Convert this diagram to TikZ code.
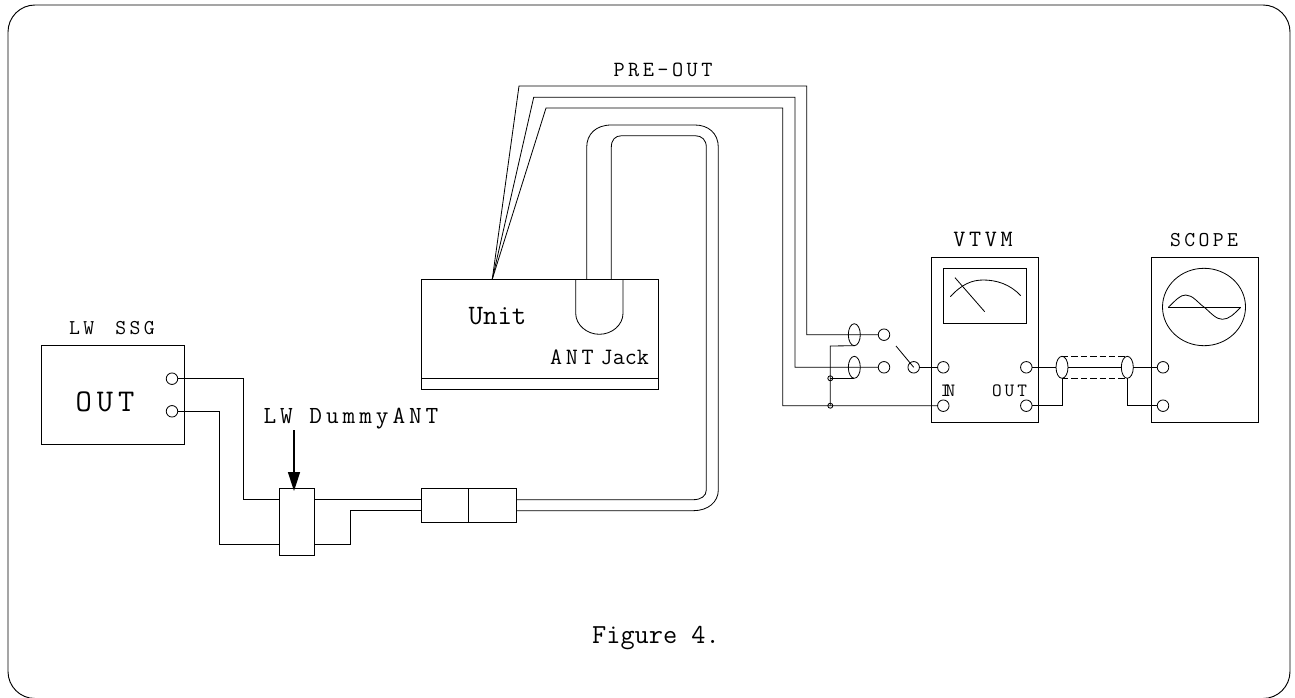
\documentclass[tikz,border=0pt]{standalone}
\usepackage{fontspec}
\setmonofont[LetterSpace=16]{Latin Modern Mono}
\newfontfamily\tightmono{Latin Modern Mono}
\usetikzlibrary{arrows.meta,shapes.geometric}
\tikzset{
	box/.style={draw, minimum width=#1, inner sep=0pt, outer sep=0pt},
	jackpin/.style={draw, circle, fill=white, minimum size=11.5*0.03cm, inner sep=0pt, outer sep=0pt},
	shield/.style={draw, ellipse, minimum width=12*0.03cm, minimum height=22*0.03cm, inner sep=0pt, outer sep=0pt},
	tiedot/.style={draw, circle, minimum size=5*0.03cm, inner sep=0pt, outer sep=0pt},
	lbl/.style={inner sep=0pt, font=\ttfamily\fontsize{#1}{#1}\selectfont},
	tightlbl/.style={inner sep=0pt, font=\tightmono\fontsize{#1}{#1}\selectfont}
}

\begin{document}
\begin{tikzpicture}[x=0.03cm, y=-0.03cm, line width=0.7pt]
	%%%%% FRAME %%%%%
	\useasboundingbox (0, 0) rectangle (1295, 697);
	\draw[rounded corners=0.81cm, line width=0.8pt] (8, 5) rectangle (1290, 698.5);

	%%%%% BOXES %%%%%
	\node[box=142.6*0.03cm, minimum height=99*0.03cm] (ssg) at (113, 395.2) {};
	\node[box=35*0.03cm, minimum height=66.6*0.03cm] (dummy) at (296.8, 522) {};
	\node[box=47.6*0.03cm, minimum height=33.3*0.03cm] (plugl) at (444.9, 505.3) {};
	\node[box=47.4*0.03cm, minimum height=33.3*0.03cm] (plugr) at (492.4, 505.3) {};
	\node[box=237.4*0.03cm, minimum height=110.7*0.03cm] (unit) at (540, 334.3) {};
	\node[box=106.6*0.03cm, minimum height=165*0.03cm] (vtvm) at (985, 339.8) {};
	\node[box=107.3*0.03cm, minimum height=165*0.03cm] (scope) at (1204.6, 339.8) {};

	\draw (unit.south west) ++(0, -11.4) -- ++(237.4, 0);

	%%%%% LW SSG SIDE %%%%%
	\node[jackpin] (ssgA) at (172, 378.7) {};
	\node[jackpin] (ssgB) at (172, 411.3) {};
	\coordinate (ssgAin) at (279.3, 499.7);
	\coordinate (ssgBin) at (279.3, 544);
	\coordinate (ssgAturn) at (243.3, 378.7);
	\coordinate (ssgBturn) at (219.7, 411.3);
	\draw (ssgA) -- (ssgAturn) |- (ssgAin);
	\draw (ssgB) -- (ssgBturn) |- (ssgBin);

	\coordinate (dummyA) at (314.3, 499.7);
	\coordinate (dummyB) at (314.3, 544);
	\coordinate (plugA) at (421, 499.7);
	\coordinate (plugB) at (421, 510.7);
	\draw (dummyA) -- (plugA);
	\draw (dummyB) -- (350.3, 544) -- (350.3, 510.7) -- (plugB);

	\coordinate (dummyTip) at (294, 491);
	\coordinate (dummyTail) at (294, 430);
	\draw[line width=1.3pt, -{Stealth[length=19*0.03cm, width=12*0.03cm, inset=0pt]}] (dummyTail) -- (dummyTip);

	%%%%% ANT CABLE %%%%%
	\coordinate (plugC) at (516, 499.7);
	\coordinate (plugD) at (516, 510.7);
	\draw (plugC) -- (693.3, 499.7) .. controls (701, 499.7) and (706.3, 496) .. (706.3, 490)
		-- (706.3, 147.3) .. controls (706.3, 140) and (702, 135.7) .. (695, 135.7)
		-- (621.7, 135.7) .. controls (615, 135.7) and (611.3, 140) .. (611.3, 147.3) -- (611.3, 279);
	\draw (plugD) -- (693.3, 510.7) .. controls (708, 510.7) and (718.3, 502) .. (718.3, 490)
		-- (718.3, 147.3) .. controls (718.3, 133) and (708, 125) .. (695, 125)
		-- (611.3, 125) .. controls (596, 125) and (586.7, 134) .. (586.7, 147.3) -- (586.7, 279);

	% jack
	\draw (575.7, 279) -- (575.7, 313.3) .. controls (575.7, 325) and (587, 334.3) .. (599.3, 334.3)
		.. controls (612, 334.3) and (623, 325) .. (623, 313.3) -- (623, 279);

	%%%%% PRE-OUT %%%%%
	\coordinate (preout) at (492.3, 279);
	\node[tiedot] (tieA) at (830.3, 378.3) {};
	\node[tiedot] (tieB) at (830.3, 405.7) {};
	\node[jackpin] (swA) at (884, 334.7) {};
	\node[jackpin] (swB) at (884, 367.3) {};
	\node[jackpin] (swC) at (913.7, 367.3) {};
	\node[jackpin] (vtvmIn) at (943.3, 367.3) {};
	\node[jackpin] (vtvmGnd) at (943.3, 405.7) {};
	\node[jackpin] (vtvmOut) at (1026.3, 367.3) {};
	\node[jackpin] (vtvmRet) at (1026.3, 405.7) {};
	\node[jackpin] (scopeA) at (1163, 367.3) {};
	\node[jackpin] (scopeB) at (1163, 405.7) {};

	\draw (preout) -- (519, 86) -- (806.7, 86) -- (806.7, 334.7) -- (swA);
	\draw (preout) -- (533.7, 97.3) -- (795, 97.3) -- (795, 367.3) -- (swB);
	\draw (preout) -- (546, 108) -- (782.7, 108) -- (782.7, 405.7) -- (vtvmGnd);
	\draw (swC) -- (vtvmIn);
	\coordinate (swArm) at (896, 346);
	\draw (swArm) -- (swC.center);

	\node[shield] (shA) at (854.3, 334.7) {};
	\node[shield] (shB) at (854.3, 367.3) {};
	\coordinate (tieTop) at (830.3, 346);
	\draw (shA.south) -- (tieTop) -- (tieB.center);
	\draw (tieA.center) -- (shB.south);

	%%%%% VTVM %%%%%
	\draw (943.3, 268.3) rectangle (1026.3, 323.3);
	\draw (955, 277.7) -- (984.7, 311.7);
	\draw (950.3, 296.7) .. controls (962, 284) and (972, 280) .. (983.3, 280) .. controls (996, 280) and (1010, 284) .. (1020.7, 295.7);

	%%%%% SCOPE %%%%%
	\draw (1204, 307) ellipse (41.5 and 38.7);
	\draw (1168.3, 307.3) -- (1240.7, 307.3);
	\draw (1168.3, 307.3) .. controls (1176, 300) and (1180, 295) .. (1185.7, 295)
		.. controls (1193, 295) and (1198, 303) .. (1204.3, 307.3)
		.. controls (1211, 313) and (1216, 319.3) .. (1222.3, 319.3)
		.. controls (1229, 319.3) and (1234, 314) .. (1240.7, 307.3);

	%%%%% OUTPUT CABLE %%%%%
	\node[shield] (shC) at (1062, 367.3) {};
	\node[shield] (shD) at (1127.3, 367.3) {};
	\draw (vtvmOut) -- (shC);
	\draw (shC) -- (shD);
	\draw (shD) -- (scopeA);
	\draw[dash pattern=on 5.5pt off 2.5pt] (shC.north) -- (shD.north);
	\draw[dash pattern=on 5.5pt off 2.5pt] (shC.south) -- (shD.south);
	\draw (vtvmRet) -| (shC.south);
	\draw (scopeB) -| (shD.south);

	%%%%% LABELS %%%%%
	\node[lbl=18] (ssgLabel) at (112, 328) {LW\hspace{18pt}SSG};
	\node[lbl=27] (ssgOut) at (105, 401.5) {OUT};
	\node[lbl=21] (dummyLabel) at (351, 419) {LW DummyANT};
	\node[lbl=18.5] (preLabel) at (663, 70) {PRE-OUT};
	\node[tightlbl=24] (unitLabel) at (497.5, 316) {Unit};
	\node[lbl=20] (antLabel) at (599.5, 357) {ANT\hspace{6pt}{\tightmono Jack}};
	\node[lbl=20] (vtvmLabel) at (983, 239.5) {VTVM};
	\node[lbl=18] (scopeLabel) at (1204, 240) {SCOPE};
	\node[tightlbl=16] (inLabel) at (948, 391) {I\hspace{-4pt}N};
	\node[lbl=16] (outLabel) at (1009.5, 391) {OUT};
	\node[tightlbl=23.5, anchor=base] (figLabel) at (656, 643) {Figure 4.};
\end{tikzpicture}
\end{document}
